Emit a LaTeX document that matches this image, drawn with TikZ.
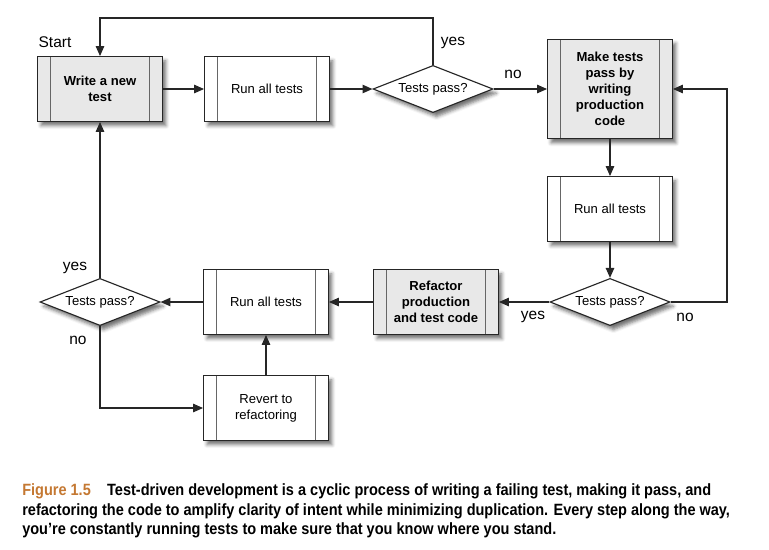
\documentclass[tikz,border=0pt]{standalone}
\usepackage{fontspec}
\setmainfont{Liberation Sans}
\newfontfamily\capfont[FakeStretch=0.89]{Liberation Sans}
\usetikzlibrary{shapes.geometric,arrows.meta,shadows.blur}

\definecolor{boxgray}{RGB}{232,232,232}
\definecolor{figorange}{RGB}{196,120,50}

\tikzset{
    boxshadow/.style={blur shadow={shadow xshift=2.5pt, shadow yshift=-3pt,
        shadow blur radius=2.5pt, shadow opacity=55}},
    stepbox/.style={draw=black!85, line width=0.8pt, fill=white,
        minimum width=3.12cm, minimum height=1.62cm, align=center,
        font=\fontsize{9.3}{11.3}\selectfont, boxshadow,
        path picture={
            \draw[black!60, line width=0.7pt]
                ([xshift=0.32cm]path picture bounding box.north west) --
                ([xshift=0.32cm]path picture bounding box.south west);
            \draw[black!60, line width=0.7pt]
                ([xshift=-0.32cm]path picture bounding box.north east) --
                ([xshift=-0.32cm]path picture bounding box.south east);
        }},
    keybox/.style={stepbox, fill=boxgray, font=\fontsize{9.3}{11.3}\selectfont\bfseries},
    decision/.style={diamond, draw=black!85, line width=0.8pt, fill=white,
        aspect=2.55, inner sep=0pt, minimum width=3cm, minimum height=1.18cm,
        font=\fontsize{9.3}{11.3}\selectfont, boxshadow},
    flow/.style={line width=0.8pt, draw=black!85,
        -{Triangle[length=7pt, width=6pt]}},
    tag/.style={font=\fontsize{11}{13}\selectfont}
}

\begin{document}
\begin{tikzpicture}[x=0.025cm, y=-0.025cm]
    \useasboundingbox (0,0) rectangle (769,549);

    % Top row
    \node[keybox] (write) at (100,89) {Write a new\\test};
    \node[stepbox] (runA) at (267,89) {Run all tests};
    \node[decision] (passA) at (433,89) {Tests pass?};
    \node[keybox, minimum height=2.48cm] (make) at (610,89) {Make tests\\pass by\\writing\\production\\code};

    % Right column
    \node[stepbox] (runB) at (610,209) {Run all tests};
    \node[decision] (passB) at (610,302) {Tests pass?};

    % Bottom row
    \node[keybox] (refac) at (436,302) {Refactor\\production\\and test code};
    \node[stepbox] (runC) at (266,302) {Run all tests};
    \node[decision] (passC) at (100,302) {Tests pass?};
    \node[stepbox] (revert) at (266,408) {Revert to\\refactoring};

    % Corners of the loops
    \coordinate (topA) at (433,18);
    \coordinate (topB) at (100,18);
    \coordinate (rightA) at (727,302);
    \coordinate (rightB) at (727,89);
    \coordinate (lowA) at (100,408);

    % Labels
    \node[tag] (start) at (55,42) {Start};
    \node[tag] (yesA) at (453,43) {yes};
    \node[tag] (noA) at (513,74) {no};
    \node[tag] (yesB) at (533,317) {yes};
    \node[tag] (noB) at (685,317) {no};
    \node[tag] (yesC) at (75,268) {yes};
    \node[tag] (noC) at (78,340) {no};

    % Connectors
    \draw[flow] (write) -- (runA);
    \draw[flow] (runA) -- (passA);
    \draw[flow] (passA) -- (make);
    \draw[flow] (passA.north) -- (topA) -- (topB) -- (write.north);
    \draw[flow] (make) -- (runB);
    \draw[flow] (runB) -- (passB);
    \draw[flow] (passB.east) -- (rightA) -- (rightB) -- (make.east);
    \draw[flow] (passB) -- (refac);
    \draw[flow] (refac) -- (runC);
    \draw[flow] (runC) -- (passC);
    \draw[flow] (passC.north) -- (write.south);
    \draw[flow] (passC.south) -- (lowA) -- (revert.west);
    \draw[flow] (revert) -- (runC);

    % Caption
    \node[anchor=west, inner sep=0pt, font=\capfont\fontsize{11.6}{14}\selectfont\bfseries] (capA) at (22,491)
        {\textcolor{figorange}{Figure 1.5}\quad Test-driven development is a cyclic process of writing a failing test, making it pass, and};
    \node[anchor=west, inner sep=0pt, font=\capfont\fontsize{11.6}{14}\selectfont\bfseries] (capB) at (22,511)
        {refactoring the code to amplify clarity of intent while minimizing duplication. Every step along the way,};
    \node[anchor=west, inner sep=0pt, font=\capfont\fontsize{11.6}{14}\selectfont\bfseries] (capC) at (22,530)
        {you’re constantly running tests to make sure that you know where you stand.};
\end{tikzpicture}
\end{document}
